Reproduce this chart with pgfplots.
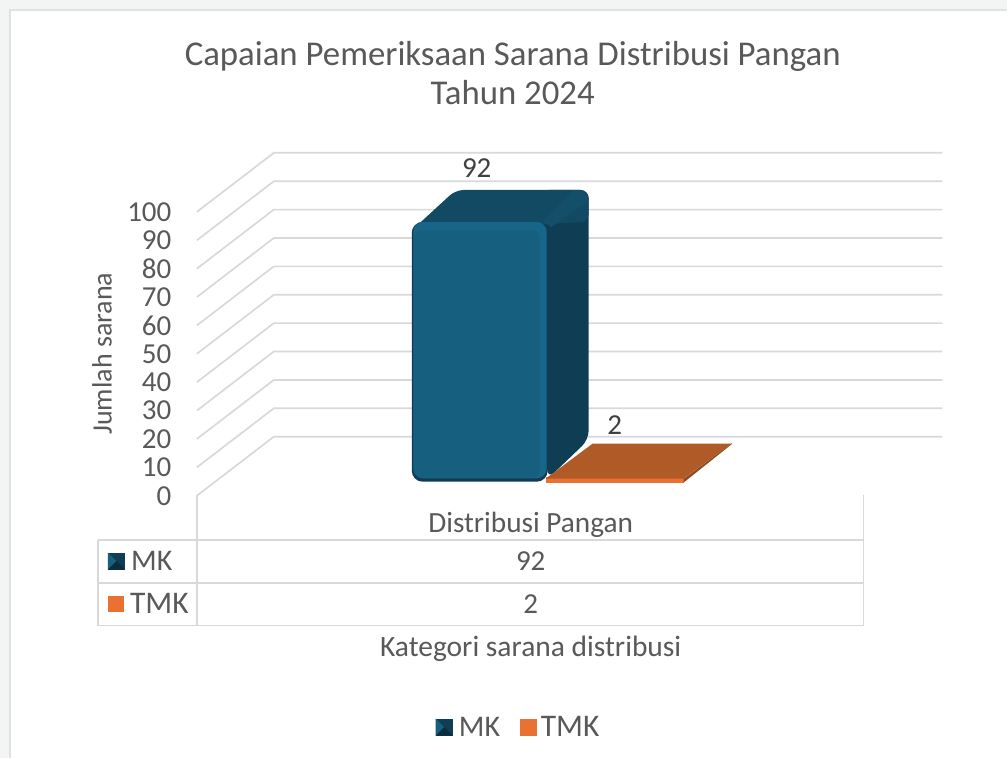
\documentclass[border=0pt]{standalone}
\usepackage{pgfplots}
\pgfplotsset{compat=1.18}
\usepackage{fontspec}
\setmainfont{Carlito}
\definecolor{txt}{HTML}{595959}
\definecolor{txd}{HTML}{404040}
\definecolor{gridc}{HTML}{D9D9D9}
\definecolor{pagebg}{HTML}{F3F5F4}
\definecolor{mkouter}{HTML}{0E3D55}
\definecolor{mklight}{HTML}{17668A}
\definecolor{mkfront}{HTML}{165F7F}
\definecolor{mktop}{HTML}{134A63}
\definecolor{mkside}{HTML}{0F3D54}
\definecolor{mkdiag}{HTML}{144F6A}
\definecolor{tmkfront}{HTML}{E97132}
\definecolor{tmktop}{HTML}{B05A28}
\definecolor{tmkside}{HTML}{8F4A20}
\newcommand{\fs}[1]{\fontsize{#1}{#1}\selectfont}
\begin{document}
\begin{tikzpicture}[x=1pt,y=1pt]
% page and chart background
\fill[pagebg] (0,0) rectangle (1008,-758);
\fill[white] (10,-10) rectangle (1008,-758);
\draw[gridc!80,line width=1.2pt] (10,-758) -- (10,-10) -- (1008,-10);
% value axis with walls
\begin{axis}[
  at={(197pt,-496pt)},anchor=south west,scale only axis,
  width=746pt,height=284pt,
  xmin=197,xmax=943,ymin=0,ymax=100,clip=false,
  axis x line=none,
  axis y line*=left,
  y axis line style={draw=none},
  ytick={0,10,...,100},
  major tick length=0pt,
  tick style={draw=none},
  /pgf/number format/assume math mode=true,
  yticklabel style={font=\fs{29},text=txt,anchor=east,xshift=-22pt}]
\addplot[gridc,line width=1.7pt,no markers] coordinates {(197,0)(274,20.8)(943,20.8)};
\addplot[gridc,line width=1.7pt,no markers] coordinates {(197,10)(274,30.8)(943,30.8)};
\addplot[gridc,line width=1.7pt,no markers] coordinates {(197,20)(274,40.8)(943,40.8)};
\addplot[gridc,line width=1.7pt,no markers] coordinates {(197,30)(274,50.8)(943,50.8)};
\addplot[gridc,line width=1.7pt,no markers] coordinates {(197,40)(274,60.8)(943,60.8)};
\addplot[gridc,line width=1.7pt,no markers] coordinates {(197,50)(274,70.8)(943,70.8)};
\addplot[gridc,line width=1.7pt,no markers] coordinates {(197,60)(274,80.8)(943,80.8)};
\addplot[gridc,line width=1.7pt,no markers] coordinates {(197,70)(274,90.8)(943,90.8)};
\addplot[gridc,line width=1.7pt,no markers] coordinates {(197,80)(274,100.8)(943,100.8)};
\addplot[gridc,line width=1.7pt,no markers] coordinates {(197,90)(274,110.8)(943,110.8)};
\addplot[gridc,line width=1.7pt,no markers] coordinates {(197,100)(274,120.8)(943,120.8)};
\end{axis}
% bars
\begin{axis}[
  at={(0pt,-482pt)},anchor=south west,scale only axis,
  width=1008pt,height=282.6pt,
  xmin=0,xmax=1008,ymin=0,ymax=100,clip=false,hide axis]
% MK: side and top faces
\addplot[draw=none,fill=mkside,rounded corners=9pt] coordinates {(589,60)(589,14.9)(548,1)(540,60)(540,103.3)(589,103.3)} -- cycle;
\addplot[draw=none,fill=mktop,rounded corners=8pt] coordinates {(500,103.3)(589,103.3)(589,92)(412,89)(456,103.3)} -- cycle;
\addplot[draw=none,fill=mkdiag] coordinates {(543,92)(574,103.3)(584,102.5)(588.5,99.5)(552,90.2)} -- cycle;
% MK: front face
\addplot[draw=none,fill=mkouter,rounded corners=11pt] coordinates {(480,0)(548,0)(548,92)(412,92)(412,0)} -- cycle;
\addplot[draw=none,fill=mklight,rounded corners=10pt] coordinates {(480,1.2)(547,1.2)(547,92)(413.5,92)(413.5,1.2)} -- cycle;
\addplot[draw=none,fill=mkfront,rounded corners=7pt] coordinates {(480,1.5)(540,1.5)(540,89)(414.5,89)(414.5,1.5)} -- cycle;
% TMK
\addplot[ybar,bar width=138pt,bar shift=0pt,draw=none,fill=tmkfront,yshift=-1pt] coordinates {(615,2)};
\addplot[draw=none,fill=tmkside] coordinates {(684,-0.3)(732.5,13.4)(732,13.6)(684,1)} -- cycle;
\addplot[draw=none,fill=tmktop] coordinates {(546,1.1)(684,1.1)(732,13.5)(593,13.5)} -- cycle;
\end{axis}
% table
\draw[gridc,line width=1.7pt] (197,-495) -- (197,-626);
\draw[gridc,line width=1.7pt] (864,-495) -- (864,-626);
\draw[gridc,line width=1.7pt] (98,-540) -- (864,-540);
\draw[gridc,line width=1.7pt] (98,-583) -- (864,-583);
\draw[gridc,line width=1.7pt] (98,-626) -- (864,-626);
\draw[gridc,line width=1.7pt] (98,-540) -- (98,-626);
% text
\node[txt,font=\fs{34.8},align=center] at (513,-73) {Capaian Pemeriksaan Sarana Distribusi Pangan\\[4pt]Tahun 2024};
\node[txt,font=\fs{28},rotate=90] at (102,-354) {Jumlah sarana};
\node[txd,font=\fs{29}] at (477,-168) {92};
\node[txd,font=\fs{29}] at (615,-425) {2};
\node[txt,font=\fs{29.3}] at (531,-525) {Distribusi Pangan};
\node[txt,font=\fs{29}] at (531,-561) {92};
\node[txt,font=\fs{29}] at (531,-604) {2};
\node[txt,font=\fs{29.5}] at (531,-649) {Kategori sarana distribusi};
% table keys
\fill[mkside] (108,-553) rectangle (125,-570);
\fill[mkfront] (108,-553) -- (116.5,-561.5) -- (108,-570) -- cycle;
\fill[mktop!60!black] (108,-570) -- (116.5,-561.5) -- (125,-570) -- cycle;
\fill[tmkfront] (108,-596) rectangle (124,-612);
\node[txt,font=\fs{30},anchor=west,inner sep=0pt] at (131,-561) {MK};
\node[txt,font=\fs{31.5},anchor=west,inner sep=0pt] at (130,-604) {TMK};
% legend
\fill[mkside] (436,-719) rectangle (453,-736);
\fill[mkfront] (436,-719) -- (444.5,-727.5) -- (436,-736) -- cycle;
\fill[mktop!60!black] (436,-736) -- (444.5,-727.5) -- (453,-736) -- cycle;
\fill[tmkfront] (520,-719) rectangle (537,-736);
\node[txt,font=\fs{30},anchor=west,inner sep=0pt] at (459,-727) {MK};
\node[txt,font=\fs{31.5},anchor=west,inner sep=0pt] at (541,-727) {TMK};
\end{tikzpicture}
\end{document}
